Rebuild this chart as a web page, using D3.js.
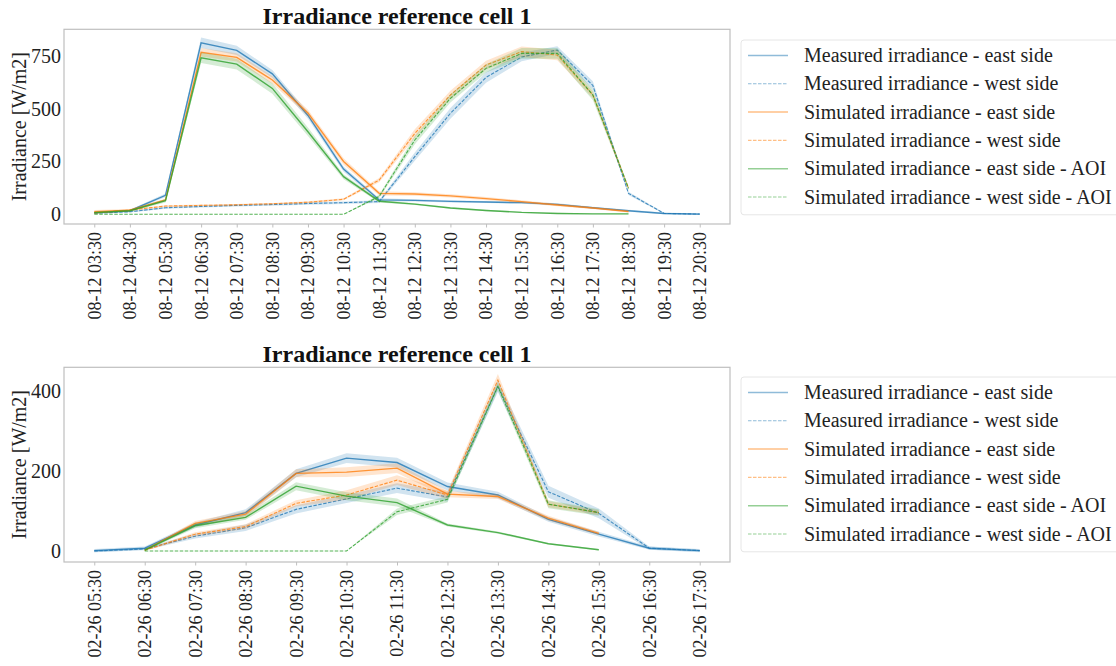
<!DOCTYPE html>
<html>
<head>
<meta charset="utf-8">
<script src="https://cdn.jsdelivr.net/npm/d3@7"></script>
<style>
  html, body { margin: 0; padding: 0; background: #fff; }
  svg { display: block; font-family: "Liberation Serif", "Times New Roman", serif; }
</style>
</head>
<body>
<svg id="chart" width="1116" height="666"></svg>
<script>
// ---- Summer day (08-12) ----
const timesAug = ["08-12 03:30","08-12 04:30","08-12 05:30","08-12 06:30","08-12 07:30","08-12 08:30",
  "08-12 09:30","08-12 10:30","08-12 11:30","08-12 12:30","08-12 13:30","08-12 14:30","08-12 15:30",
  "08-12 16:30","08-12 17:30","08-12 18:30","08-12 19:30","08-12 20:30"];
const augMeasuredEast = [8, 17, 90, 812, 776, 665, 468, 214, 68, 66, 61, 58, 55, 47, 31, 17, 4, 1];
const augMeasuredWest = [5, 12, 31, 37, 42, 46, 51, 55, 60, 273, 478, 648, 745, 778, 610, 99, 4, 1];
const augSimEast      = [12, 19, 68, 767, 743, 636, 480, 250, 99, 96, 87, 74, 60, 44, 30, 13, null, null];
const augSimWest      = [6, 20, 39, 42, 45, 50, 57, 71, 162, 383, 565, 707, 770, 754, 565, 123, null, null];
const augAoiEast      = [8, 17, 64, 741, 711, 596, 391, 178, 62, 48, 30, 18, 9, 4, 2, 2, null, null];
const augAoiWest      = [0, 0, 0, 0, 0, 0, 0, 0, 85, 352, 549, 691, 762, 762, 565, 123, null, null];
// confidence half-widths
const augCiMeasuredEast = [5, 5, 8, 25, 22, 18, 15, 12, 8, 5, 5, 5, 5, 5, 5, 5, 4, 3];
const augCiMeasuredWest = [4, 4, 5, 5, 5, 5, 6, 6, 6, 20, 25, 25, 20, 18, 20, 8, 3, 2];
const augCiSimEast      = [8, 6, 6, 20, 20, 18, 15, 15, 10, 8, 8, 8, 6, 6, 5, 5, null, null];
const augCiSimWest      = [4, 4, 4, 4, 4, 4, 5, 5, 10, 20, 20, 20, 25, 25, 15, 8, null, null];
const augCiAoiEast      = [4, 4, 8, 25, 25, 25, 20, 12, 6, 4, 4, 4, 3, 3, 2, 2, null, null];
const augCiAoiWest      = [0, 0, 0, 0, 0, 0, 0, 0, 8, 20, 20, 20, 25, 25, 25, 8, null, null];
const augTicks = [0, 250, 500, 750];

// ---- Winter day (02-26) ----
const timesFeb = ["02-26 05:30","02-26 06:30","02-26 07:30","02-26 08:30","02-26 09:30","02-26 10:30",
  "02-26 11:30","02-26 12:30","02-26 13:30","02-26 14:30","02-26 15:30","02-26 16:30","02-26 17:30"];
const febMeasuredEast = [1, 7, 65, 96, 194, 232, 221, 161, 140, 79, 42, 7, 1];
const febMeasuredWest = [0, 5, 37, 58, 104, 130, 157, 135, 412, 148, 94, 7, 1];
const febSimEast      = [null, 2, 69, 92, 194, 197, 207, 142, 136, 82, 44, null, null];
const febSimWest      = [null, 2, 42, 61, 119, 140, 177, 140, 427, 117, 96, null, null];
const febAoiEast      = [null, 2, 63, 84, 162, 137, 121, 65, 46, 18, 3, null, null];
const febAoiWest      = [null, 0, 0, 0, 0, 0, 98, 129, 411, 117, 96, null, null];
const febCiMeasuredEast = [4, 4, 6, 8, 10, 12, 12, 10, 8, 6, 6, 4, 4];
const febCiMeasuredWest = [3, 3, 6, 8, 10, 10, 12, 12, 15, 15, 12, 4, 3];
const febCiSimEast      = [null, 2, 6, 8, 10, 12, 12, 8, 6, 6, 4, null, null];
const febCiSimWest      = [null, 2, 5, 6, 8, 12, 12, 10, 15, 8, 6, null, null];
const febCiAoiEast      = [null, 2, 6, 6, 10, 10, 10, 4, 3, 2, 2, null, null];
const febCiAoiWest      = [null, 0, 0, 0, 0, 0, 8, 8, 10, 10, 8, null, null];
const febTicks = [0, 200, 400];

const seriesNames = [
  "Measured irradiance - east side", "Measured irradiance - west side",
  "Simulated irradiance - east side", "Simulated irradiance - west side",
  "Simulated irradiance - east side - AOI", "Simulated irradiance - west side - AOI"
];
const seriesColors = ["#1f77b4", "#1f77b4", "#ff7f0e", "#ff7f0e", "#2ca02c", "#2ca02c"];
const seriesDashed = [false, true, false, true, false, true];
const chartTitle = "Irradiance reference cell 1";
const yLabel = "Irradiance [W/m2]";

const svg = d3.select("#chart");

function drawPanel(cfg) {
  const { times, values, cis, yDomain, ticks, left, right, top, bottom } = cfg;
  const n = times.length;
  const x = d3.scaleLinear().domain([-(n - 1) * 0.05, (n - 1) * 1.05]).range([left, right]);
  const y = d3.scaleLinear().domain(yDomain).range([bottom, top]);
  const g = svg.append("g");

  const clipId = "clip" + Math.round(top);
  svg.append("clipPath").attr("id", clipId)
    .append("rect").attr("x", left).attr("y", top).attr("width", right - left).attr("height", bottom - top);
  const plot = g.append("g").attr("clip-path", `url(#${clipId})`);

  values.forEach((vals, s) => {
    const ci = cis[s];
    const pts = vals.map((v, i) => ({ i, v, c: ci[i] }));
    const area = d3.area()
      .defined(d => d.v != null)
      .x(d => x(d.i)).y0(d => y(d.v - d.c)).y1(d => y(d.v + d.c));
    plot.append("path").datum(pts).attr("d", area)
      .attr("fill", seriesColors[s]).attr("fill-opacity", 0.2).attr("stroke", "none");
    const line = d3.line().defined(d => d.v != null).x(d => x(d.i)).y(d => y(d.v));
    plot.append("path").datum(pts).attr("d", line)
      .attr("fill", "none").attr("stroke", seriesColors[s])
      .attr("stroke-opacity", 0.8)
      .attr("stroke-width", seriesDashed[s] ? 1.1 : 1.4)
      .attr("stroke-dasharray", seriesDashed[s] ? "3.5,1.5" : null);
  });

  // frame
  g.append("rect").attr("x", left).attr("y", top).attr("width", right - left).attr("height", bottom - top)
    .attr("fill", "none").attr("stroke", "#bfbfbf").attr("stroke-width", 1.2);

  // x axis
  const xAxis = d3.axisBottom(x).tickValues(d3.range(n)).tickFormat(i => times[i]).tickSize(3.5).tickPadding(4);
  const xa = g.append("g").attr("transform", `translate(0,${bottom})`).call(xAxis);
  xa.select(".domain").remove();
  xa.selectAll(".tick line").attr("stroke", "#bfbfbf");
  xa.selectAll(".tick text")
    .attr("font-family", "Liberation Serif").attr("font-size", 18).attr("fill", "#222")
    .attr("transform", "rotate(-90)").attr("text-anchor", "end")
    .attr("x", -8).attr("y", 0).attr("dy", "0.33em");

  // y axis
  const yAxis = d3.axisLeft(y).tickValues(ticks).tickSize(0).tickPadding(3);
  const ya = g.append("g").attr("transform", `translate(${left},0)`).call(yAxis);
  ya.select(".domain").remove();
  ya.selectAll(".tick text")
    .attr("font-family", "Liberation Serif").attr("font-size", 20).attr("fill", "#222");

  // title
  g.append("text").attr("x", (left + right) / 2).attr("y", top - 5.5)
    .attr("text-anchor", "middle").attr("font-size", 24).attr("font-weight", "bold").attr("fill", "#111")
    .text(chartTitle);

  // y label
  g.append("text").attr("transform", `translate(26,${(top + bottom) / 2}) rotate(-90)`)
    .attr("text-anchor", "middle").attr("font-size", 20).attr("fill", "#222")
    .text(yLabel);

  // legend
  const lg = g.append("g");
  const lx = cfg.legendX, ly = cfg.legendY, step = 28.3;
  lg.append("rect").attr("x", lx).attr("y", ly).attr("width", 400).attr("height", step * 6 + 5)
    .attr("rx", 3).attr("fill", "#fff").attr("stroke", "#e6e6e6").attr("stroke-width", 1);
  seriesNames.forEach((name, s) => {
    const cy = ly + 15.5 + s * step;
    lg.append("line").attr("x1", lx + 7).attr("x2", lx + 47).attr("y1", cy).attr("y2", cy)
      .attr("stroke", seriesColors[s]).attr("stroke-opacity", 0.5)
      .attr("stroke-width", seriesDashed[s] ? 1.1 : 1.5)
      .attr("stroke-dasharray", seriesDashed[s] ? "3.5,1.5" : null);
    lg.append("text").attr("x", lx + 63).attr("y", cy).attr("dy", "0.33em")
      .attr("font-size", 20).attr("fill", "#222").text(name);
  });
}

drawPanel({
  times: timesAug,
  values: [augMeasuredEast, augMeasuredWest, augSimEast, augSimWest, augAoiEast, augAoiWest],
  cis: [augCiMeasuredEast, augCiMeasuredWest, augCiSimEast, augCiSimWest, augCiAoiEast, augCiAoiWest],
  yDomain: [-46, 876], ticks: augTicks,
  left: 64, right: 730, top: 29.3, bottom: 224,
  legendX: 741, legendY: 40
});

drawPanel({
  times: timesFeb,
  values: [febMeasuredEast, febMeasuredWest, febSimEast, febSimWest, febAoiEast, febAoiWest],
  cis: [febCiMeasuredEast, febCiMeasuredWest, febCiSimEast, febCiSimWest, febCiAoiEast, febCiAoiWest],
  yDomain: [-27.5, 459], ticks: febTicks,
  left: 64, right: 730, top: 367.3, bottom: 562,
  legendX: 741, legendY: 377
});
</script>
</body>
</html>
